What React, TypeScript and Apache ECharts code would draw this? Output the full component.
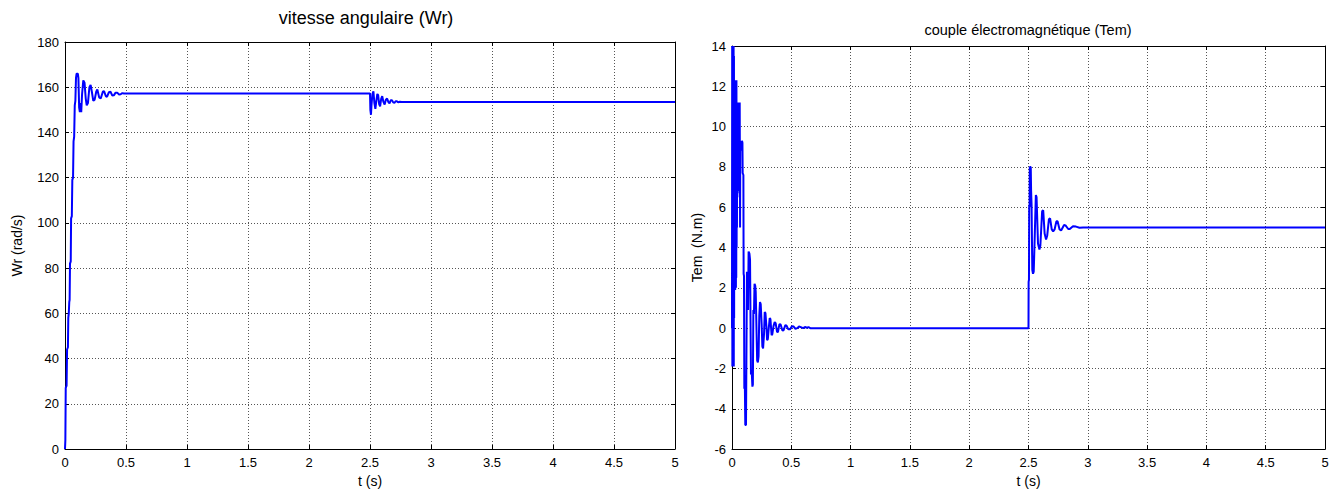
import React, { useEffect, useRef } from "react";
import * as echarts from "echarts";

// ---- Data ----
const timeTicks = [0, 0.5, 1, 1.5, 2, 2.5, 3, 3.5, 4, 4.5, 5];
const wrTicks = [0, 20, 40, 60, 80, 100, 120, 140, 160, 180];
const temTicks = [-6, -4, -2, 0, 2, 4, 6, 8, 10, 12, 14];

// angular speed Wr (rad/s): start-up
const wrStartup: [number, number][] = [
  [0, 0], [0.003, 4], [0.006, 27], [0.013, 28], [0.017, 44], [0.024, 45],
  [0.027, 58], [0.031, 60], [0.035, 65], [0.038, 66], [0.041, 82], [0.047, 83],
  [0.05, 102], [0.056, 103], [0.06, 119], [0.066, 120], [0.07, 136], [0.075, 138],
  [0.08, 152], [0.085, 154], [0.09, 164], [0.095, 166], [0.105, 166], [0.11, 164],
  [0.116, 151], [0.122, 149], [0.128, 153], [0.133, 149], [0.14, 157], [0.15, 163],
  [0.16, 162], [0.17, 155], [0.178, 152], [0.188, 153], [0.2, 160], [0.21, 161],
  [0.22, 158], [0.232, 154], [0.243, 154.5], [0.256, 158], [0.265, 159], [0.28, 155.5],
  [0.293, 155], [0.31, 158], [0.32, 158.3], [0.335, 156], [0.345, 155.8], [0.36, 157.8],
  [0.373, 158], [0.388, 156.3], [0.4, 156.4], [0.415, 157.6], [0.428, 157.6], [0.443, 156.8],
  [0.456, 156.9], [0.47, 157.4], [0.483, 157.2],
];
// Wr: load step at 2.5 s
const wrLoadStep: [number, number][] = [
  [2.5, 157.2], [2.503, 150], [2.508, 147.8], [2.512, 152], [2.52, 157], [2.528, 158.2],
  [2.536, 153], [2.544, 150.4], [2.552, 154], [2.56, 157], [2.567, 156.5], [2.575, 152.5],
  [2.583, 151.5], [2.592, 155], [2.6, 156], [2.61, 153.5], [2.62, 152.3], [2.63, 154.5],
  [2.64, 155], [2.65, 153.5], [2.66, 152.8], [2.67, 154.2], [2.68, 154.3], [2.69, 153.3],
  [2.7, 153.1], [2.71, 153.8], [2.72, 153.8], [2.73, 153.3], [2.745, 153.6], [2.76, 153.5],
  [5, 153.5],
];

// electromagnetic torque Tem (N.m): start-up
const temStartup: [number, number][] = [
  [0, 0], [0.0015, 14], [0.003, -1.9], [0.0045, 14], [0.006, -1.5], [0.0075, 14],
  [0.009, -1.9], [0.0105, 13.8], [0.012, -1.2], [0.0135, 14], [0.015, -1.9], [0.0165, 13.5],
  [0.018, 0.5], [0.0195, 12.3], [0.021, 1.9], [0.0225, 12.2], [0.024, 2.0], [0.0255, 12.3],
  [0.027, 1.9], [0.0285, 12.0], [0.03, 2.2], [0.0315, 12.3], [0.033, 2.0], [0.0345, 12.1],
  [0.036, 2.5], [0.0375, 12.3], [0.039, 4], [0.0405, 11.2], [0.042, 5], [0.0435, 11.1],
  [0.045, 6.5], [0.0465, 11.2], [0.048, 6.7], [0.0495, 11.0], [0.051, 6.8], [0.0525, 11.2],
  [0.054, 7], [0.0555, 11.1], [0.057, 7.2], [0.0585, 11.2], [0.06, 7.5], [0.0615, 11.0],
  [0.063, 7.8], [0.065, 11.2], [0.066, 9.3], [0.068, 5], [0.07, 9.3], [0.073, 8.8],
  [0.077, 9.3], [0.08, 8.8], [0.084, 9.3], [0.088, 9.2], [0.09, 7.7], [0.096, 7.6],
  [0.098, 2.7], [0.101, 2.6], [0.104, -3.0], [0.108, -2.6], [0.112, -4.8], [0.118, -4.8],
  [0.126, 2.8], [0.13, 2.6], [0.135, 0.9], [0.14, 3.8], [0.147, 3.7], [0.152, 3.4],
  [0.16, -2.3], [0.166, -2.1], [0.172, -2.9], [0.176, -2.8], [0.18, 0.9], [0.185, 0.7],
  [0.19, 2.2], [0.196, 2.1], [0.2, 1.8], [0.212, -1.6], [0.218, -1.7], [0.224, -1.4],
  [0.23, 0.6], [0.236, 1.3], [0.242, 1.2], [0.25, 0.2], [0.256, -0.9], [0.262, -1.0],
  [0.27, -0.3], [0.276, 0.8], [0.282, 0.75], [0.29, 0.1], [0.296, -0.6], [0.302, -0.55],
  [0.31, 0.0], [0.318, 0.5], [0.324, 0.45], [0.334, -0.35], [0.34, -0.3], [0.35, 0.1],
  [0.36, 0.3], [0.368, 0.25], [0.38, -0.2], [0.388, -0.18], [0.4, 0.2], [0.41, 0.18],
  [0.425, -0.12], [0.435, -0.1], [0.45, 0.15], [0.46, 0.12], [0.475, -0.06], [0.49, -0.05],
  [0.505, 0.1], [0.52, 0.08], [0.535, -0.03], [0.55, 0.0], [0.565, 0.08], [0.58, 0.05],
  [0.6, 0.0], [0.615, 0.06], [0.63, 0.02], [0.645, 0.05], [0.66, 0.0],
];
// Tem: load step at 2.5 s
const temLoadStep: [number, number][] = [
  [2.5, 0], [2.501, 2.3], [2.504, 2.4], [2.506, 6.1], [2.509, 6.0], [2.511, 8.0],
  [2.519, 8.0], [2.522, 6.8], [2.526, 6.1], [2.532, 2.9], [2.538, 2.7], [2.544, 2.8],
  [2.55, 4.0], [2.562, 6.6], [2.568, 6.5], [2.58, 4.2], [2.592, 3.9], [2.6, 4.1],
  [2.615, 5.8], [2.624, 5.85], [2.636, 4.7], [2.648, 4.4], [2.658, 4.6], [2.672, 5.4],
  [2.682, 5.45], [2.696, 4.9], [2.708, 4.8], [2.72, 4.9], [2.735, 5.3], [2.745, 5.3],
  [2.762, 4.9], [2.775, 4.85], [2.8, 5.12], [2.812, 5.1], [2.835, 4.92], [2.848, 4.92],
  [2.875, 5.06], [2.9, 5.04], [2.93, 4.98], [2.96, 5.0], [5, 5],
];

const wrSeries: [number, number][] = [...wrStartup, ...wrLoadStep];
const temSeries: [number, number][] = [...temStartup, [2.5, 0], ...temLoadStep];

const FONT = "Arial, 'Liberation Sans', sans-serif";
const GRID_LINE = { color: "#555", type: [1, 2] as number[], width: 1 };

function bottomX(gridIndex: number, nameGap: number) {
  return {
    type: "value" as const,
    gridIndex,
    position: "bottom" as const,
    min: timeTicks[0],
    max: timeTicks[timeTicks.length - 1],
    interval: timeTicks[1] - timeTicks[0],
    name: "t (s)",
    nameLocation: "middle" as const,
    nameGap,
    nameTextStyle: { color: "#000", fontSize: 14, fontFamily: FONT },
    axisLine: { show: true, onZero: false, lineStyle: { color: "#000", width: 1 } },
    axisTick: { show: true, inside: true, length: 4, lineStyle: { color: "#000" } },
    axisLabel: { color: "#000", fontSize: 13, fontFamily: FONT, margin: 7 },
    splitLine: { show: true, lineStyle: GRID_LINE },
  };
}
function topX(gridIndex: number) {
  return {
    type: "value" as const,
    gridIndex,
    position: "top" as const,
    min: timeTicks[0],
    max: timeTicks[timeTicks.length - 1],
    interval: timeTicks[1] - timeTicks[0],
    axisLine: { show: true, onZero: false, lineStyle: { color: "#000", width: 1 } },
    axisTick: { show: true, inside: true, length: 4, lineStyle: { color: "#000" } },
    axisLabel: { show: false },
    splitLine: { show: false },
  };
}
function leftY(gridIndex: number, ticks: number[], name: string, nameGap: number) {
  return {
    type: "value" as const,
    gridIndex,
    position: "left" as const,
    min: ticks[0],
    max: ticks[ticks.length - 1],
    interval: ticks[1] - ticks[0],
    name,
    nameLocation: "middle" as const,
    nameGap,
    nameTextStyle: { color: "#000", fontSize: 14, fontFamily: FONT },
    axisLine: { show: true, onZero: false, lineStyle: { color: "#000", width: 1 } },
    axisTick: { show: true, inside: true, length: 4, lineStyle: { color: "#000" } },
    axisLabel: { color: "#000", fontSize: 13, fontFamily: FONT, margin: 6 },
    splitLine: { show: true, lineStyle: GRID_LINE },
  };
}
function rightY(gridIndex: number, ticks: number[]) {
  return {
    type: "value" as const,
    gridIndex,
    position: "right" as const,
    min: ticks[0],
    max: ticks[ticks.length - 1],
    interval: ticks[1] - ticks[0],
    axisLine: { show: true, onZero: false, lineStyle: { color: "#000", width: 1 } },
    axisTick: { show: true, inside: true, length: 4, lineStyle: { color: "#000" } },
    axisLabel: { show: false },
    splitLine: { show: false },
  };
}

export default function App() {
  const ref = useRef<HTMLDivElement>(null);
  useEffect(() => {
    if (!ref.current) return;
    const chart = echarts.init(ref.current, undefined, { renderer: "svg" });
    chart.setOption({
      animation: false,
      backgroundColor: "#fff",
      textStyle: { fontFamily: FONT },
      graphic: [
        {
          type: "text",
          x: 366,
          y: 18,
          style: {
            text: "vitesse angulaire (Wr)",
            fill: "#000",
            font: `18px ${FONT}`,
            textAlign: "center",
            textVerticalAlign: "middle",
          },
        },
        {
          type: "text",
          x: 1028,
          y: 30,
          style: {
            text: "couple électromagnétique (Tem)",
            fill: "#000",
            font: `14.5px ${FONT}`,
            textAlign: "center",
            textVerticalAlign: "middle",
          },
        },
      ],
      grid: [
        { left: 65, top: 42, width: 610, height: 407, containLabel: false },
        { left: 732, top: 46, width: 593, height: 407, containLabel: false },
      ],
      xAxis: [bottomX(0, 25), topX(0), bottomX(1, 21), topX(1)],
      yAxis: [
        leftY(0, wrTicks, "Wr (rad/s)", 41),
        rightY(0, wrTicks),
        leftY(1, temTicks, "Tem  (N.m)", 28),
        rightY(1, temTicks),
      ],
      series: [
        {
          type: "line",
          xAxisIndex: 0,
          yAxisIndex: 0,
          data: wrSeries,
          showSymbol: false,
          clip: true,
          lineStyle: { color: "#0000ff", width: 2 },
          itemStyle: { color: "#0000ff" },
        },
        {
          type: "line",
          xAxisIndex: 2,
          yAxisIndex: 2,
          data: temSeries,
          showSymbol: false,
          clip: true,
          lineStyle: { color: "#0000ff", width: 2 },
          itemStyle: { color: "#0000ff" },
        },
      ],
    });
    return () => chart.dispose();
  }, []);
  return (
    <div
      ref={ref}
      style={{ position: "absolute", left: 0, top: 0, width: 1341, height: 493, background: "#fff" }}
    />
  );
}
